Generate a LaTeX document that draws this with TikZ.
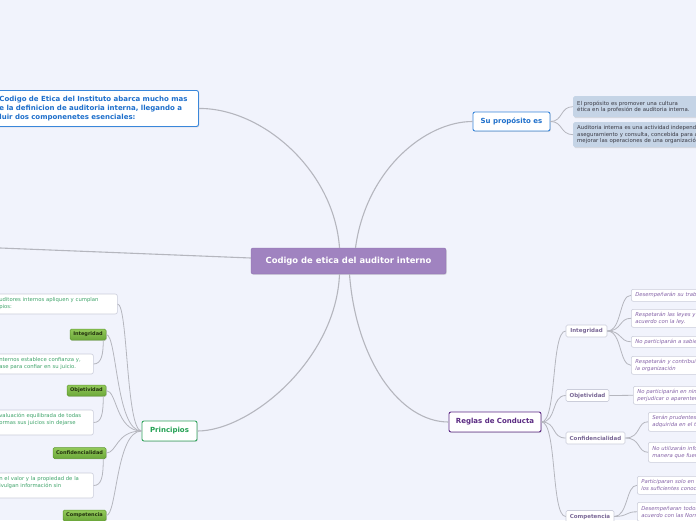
\documentclass[tikz,border=0pt]{standalone}
\usepackage{fontspec}
\setmainfont{DejaVu Sans}
\usetikzlibrary{shadows}
\definecolor{bgC}{HTML}{F1F3FC}
\definecolor{lineC}{HTML}{B5B6BE}
\definecolor{purpC}{HTML}{A083C0}
\definecolor{purpD}{HTML}{8E71AF}
\definecolor{blueB}{HTML}{3A87DA}
\definecolor{blueT}{HTML}{1E6FCB}
\definecolor{lblueF}{HTML}{C5D4E6}
\definecolor{darkT}{HTML}{3A3A44}
\definecolor{greenB}{HTML}{34A65F}
\definecolor{greenT}{HTML}{22A052}
\definecolor{glabTop}{HTML}{93C95A}
\definecolor{glabBot}{HTML}{6CA83A}
\definecolor{glabB}{HTML}{5E9A30}
\definecolor{glabT}{HTML}{23330F}
\definecolor{greenTxt}{HTML}{3FA46A}
\definecolor{grayB}{HTML}{CBCDDA}
\definecolor{purpleB}{HTML}{5F2B86}
\definecolor{purpleT}{HTML}{5A2A82}
\definecolor{labT}{HTML}{7A6896}
\definecolor{italT}{HTML}{8360A6}
\newcommand\fzC{\fontsize{8.4}{10}\selectfont\bfseries}
\newcommand\fzTL{\fontsize{7}{9}\selectfont\bfseries}
\newcommand\fzL{\fontsize{7}{9}\selectfont\bfseries}
\newcommand\fzS{\fontsize{5.4}{6.6}\selectfont}
\newcommand\fzG{\fontsize{5.3}{7}\selectfont}
\newcommand\fzI{\fontsize{5.3}{7}\selectfont\itshape}
\newcommand\fzB{\fontsize{5.5}{7}\selectfont\bfseries}
\newcommand\fzGL{\fontsize{5}{6}\selectfont\bfseries}
\begin{document}
\begin{tikzpicture}[x=1pt,y=-1pt,
  shad/.style={drop shadow={shadow xshift=0.8pt,shadow yshift=-0.9pt,opacity=0.22}},
  connM/.style={draw=lineC,line width=1.1pt},
  conn/.style={draw=lineC,line width=0.8pt},
  central/.style={fill=purpC,draw=purpD,rounded corners=2pt,text=white,font=\fzC,
    minimum width=195pt,minimum height=26pt,inner sep=0pt,shad},
  topbox/.style={fill=white,draw=blueB,line width=0.9pt,rounded corners=2pt,text=blueT,
    font=\fzTL,align=left,inner xsep=3pt,inner ysep=2pt,shad},
  blueone/.style={fill=white,draw=blueB,line width=0.9pt,rounded corners=2pt,text=blueT,
    font=\fzL,minimum width=77pt,minimum height=19pt,inner sep=0pt,shad},
  infobox/.style={fill=lblueF,draw=none,rounded corners=1.5pt,text=darkT,font=\fzS,
    align=left,text width=220pt,inner xsep=4pt,inner ysep=1pt,shad},
  greenone/.style={fill=white,draw=greenB,line width=0.9pt,rounded corners=2pt,text=greenT,
    font=\fzL,minimum width=55pt,minimum height=20pt,inner sep=0pt,shad},
  purpone/.style={fill=white,draw=purpleB,line width=0.9pt,rounded corners=2pt,text=purpleT,
    font=\fzL,minimum width=92pt,minimum height=20pt,inner sep=0pt,shad},
  gbox/.style={fill=white,draw=grayB,line width=0.6pt,rounded corners=2pt,text=greenTxt,
    font=\fzG,align=left,inner xsep=3pt,inner ysep=1pt},
  glab/.style={top color=glabTop,bottom color=glabBot,draw=glabB,line width=0.5pt,
    rounded corners=1.5pt,text=glabT,font=\fzGL,minimum height=11pt,inner sep=0pt,shad},
  rlab/.style={fill=white,draw=grayB,line width=0.6pt,rounded corners=1.5pt,text=labT,
    font=\fzB,minimum height=12pt,inner sep=0pt},
  ibox/.style={fill=white,draw=grayB,line width=0.6pt,rounded corners=2pt,text=italT,
    font=\fzI,align=left,text width=240pt,inner xsep=4pt,inner ysep=1pt}
]
\fill[bgC] (0,0) rectangle (696,520);
\useasboundingbox (0,0) rectangle (696,520);

% central
\node[central] (cen) at (348.5,261) {Codigo de etica del auditor interno};
\coordinate (offL) at (-60,245.6);

% top-left intro
\node[topbox,anchor=north west,text width=196pt,minimum height=36pt] (intro) at (-4,90)
  {Codigo de Etica del Instituto abarca mucho mas\\e la definicion de auditoria interna, llegando a\\luir dos componenetes esenciales:};

% Su proposito
\node[blueone] (prop) at (511.5,121.5) {Su propósito es};
\node[infobox,anchor=north west,minimum height=21pt] (p1) at (573,96)
  {El propósito es promover una cultura\\ética en la profesión de auditoria interna.};
\node[infobox,anchor=north west,minimum height=25pt] (p2) at (573,122)
  {Auditoria interna es una actividad independiente y objetiva de\\aseguramiento y consulta, concebida para agregar valor y\\mejorar las operaciones de una organización.};

% Principios
\node[greenone] (prin) at (169.5,431) {Principios};
\node[gbox,anchor=west,text width=115pt,minimum height=20pt] (g0) at (-4,304)
  {uditores internos apliquen y cumplan\\pios:};
\node[glab,minimum width=36pt] (gi) at (88,334.5) {Integridad};
\node[gbox,anchor=west,text width=91pt,minimum height=20pt] (g1) at (-4,364)
  {nternos establece confianza y,\\ase para confiar en su juicio.};
\node[glab,minimum width=39pt] (go) at (86.5,390.5) {Objetividad};
\node[gbox,anchor=west,text width=91pt,minimum height=25pt] (g2) at (-4,422.5)
  {valuación equilibrada de todas\\ormas sus juicios sin dejarse\\\mbox{}};
\node[glab,minimum width=53pt] (gc) at (79.5,453) {Confidencialidad};
\node[gbox,anchor=west,text width=91pt,minimum height=25pt] (g3) at (-4,485.5)
  {n el valor y la propiedad de la\\ivulgan información sin\\\mbox{}};
\node[glab,minimum width=43pt] (gm) at (84.5,515.5) {Competencia};

% Reglas de Conducta
\node[purpone] (reg) at (495,422) {Reglas de Conducta};
\node[rlab,minimum width=41pt] (ri) at (586.5,331) {Integridad};
\node[rlab,minimum width=43pt] (ro) at (587.5,395.5) {Objetividad};
\node[rlab,minimum width=59pt] (rc) at (595.5,438) {Confidencialidad};
\node[rlab,minimum width=48pt] (rm) at (590,516.5) {Competencia};

\node[ibox,anchor=north west,minimum height=12pt] (i1) at (631,289)
  {Desempeñarán su trabajo con honestidad, diligencia y responsabilidad.};
\node[ibox,anchor=north west,minimum height=18pt] (i2) at (631,309)
  {Respetarán las leyes y divulgarán lo que corresponda de\\acuerdo con la ley.};
\node[ibox,anchor=north west,minimum height=11pt] (i3) at (631,336)
  {No participarán a sabiendas en una actividad ilegal};
\node[ibox,anchor=north west,minimum height=18pt] (i4) at (631,356)
  {Respetarán y contribuirán a los objetivos legítimos y éticos de\\la organización};
\node[ibox,anchor=north west,minimum height=18pt] (io) at (633,386)
  {No participarán en ninguna actividad o relación que pueda\\perjudicar o aparentemente perjudicar su evaluación imparcial.};
\node[ibox,anchor=north west,minimum height=19pt] (ic1) at (648,412)
  {Serán prudentes en el uso y protección de la información\\adquirida en el transcurso de su trabajo.};
\node[ibox,anchor=north west,minimum height=20pt] (ic2) at (648,442)
  {No utilizarán información para lucro personal o de alguna\\manera que fuera contraria a la ley.};
\node[ibox,anchor=north west,minimum height=18pt] (im1) at (637,476)
  {Participaran solo en aquellos servicios para los cuales tengan\\los suficientes conocimientos, aptitudes y experiencia.};
\node[ibox,anchor=north west,minimum height=19pt] (im2) at (637,502)
  {Desempeñaran todos los servicios de auditoría interna de\\acuerdo con las Normas};

% main connectors
\draw[connM] ([xshift=-9pt]cen.north) .. controls (334,170) and (262,108) .. (intro.east);
\draw[connM] ([xshift=7pt]cen.north) .. controls (366,170) and (425,121.5) .. (prop.west);
\draw[connM] ([xshift=-9pt]cen.south) .. controls (336,360) and (250,431) .. (prin.east);
\draw[connM] ([xshift=1pt]cen.south) .. controls (356,360) and (400,422) .. (reg.west);
\draw[connM] ([yshift=3pt]cen.west) -- (offL);

% Su proposito branches
\draw[conn] (prop.east) .. controls (563,121.5) and (560,106.5) .. (p1.west);
\draw[conn] (prop.east) .. controls (563,121.5) and (560,134.5) .. (p2.west);

% Principios branches
\draw[conn] (prin.west) .. controls (126,431) and (128,304) .. (g0.east);
\draw[conn] (prin.west) .. controls (116,431) and (117,334.5) .. (gi.east);
\draw[conn] (prin.west) .. controls (116,431) and (117,390.5) .. (go.east);
\draw[conn] (prin.west) .. controls (116,431) and (117,453) .. (gc.east);
\draw[conn] (prin.west) .. controls (116,431) and (117,515.5) .. (gm.east);
\draw[conn] ([xshift=-3pt]gi.south east) .. controls +(0,14) and +(8,0) .. (g1.east);
\draw[conn] ([xshift=-3pt]go.south east) .. controls +(0,18) and +(8,0) .. (g2.east);
\draw[conn] ([xshift=-3pt]gc.south east) .. controls +(0,18) and +(8,0) .. (g3.east);

% Reglas branches
\draw[conn] (reg.east) .. controls (557,422) and (551,331) .. (ri.west);
\draw[conn] (reg.east) .. controls (557,422) and (551,395.5) .. (ro.west);
\draw[conn] (reg.east) .. controls (557,422) and (551,438) .. (rc.west);
\draw[conn] (reg.east) .. controls (557,422) and (551,516.5) .. (rm.west);

\draw[conn] (ri.east) .. controls (622,331) and (619,295) .. (i1.west);
\draw[conn] (ri.east) .. controls (622,331) and (619,318) .. (i2.west);
\draw[conn] (ri.east) .. controls (622,331) and (619,341.5) .. (i3.west);
\draw[conn] (ri.east) .. controls (622,331) and (619,365) .. (i4.west);
\draw[conn] (ro.east) -- (io.west);
\draw[conn] (rc.east) .. controls (641,438) and (637,421.5) .. (ic1.west);
\draw[conn] (rc.east) .. controls (641,438) and (637,452) .. (ic2.west);
\draw[conn] (rm.east) .. controls (628,516.5) and (626,485) .. (im1.west);
\draw[conn] (rm.east) .. controls (628,516.5) and (626,511.5) .. (im2.west);
\end{tikzpicture}
\end{document}
